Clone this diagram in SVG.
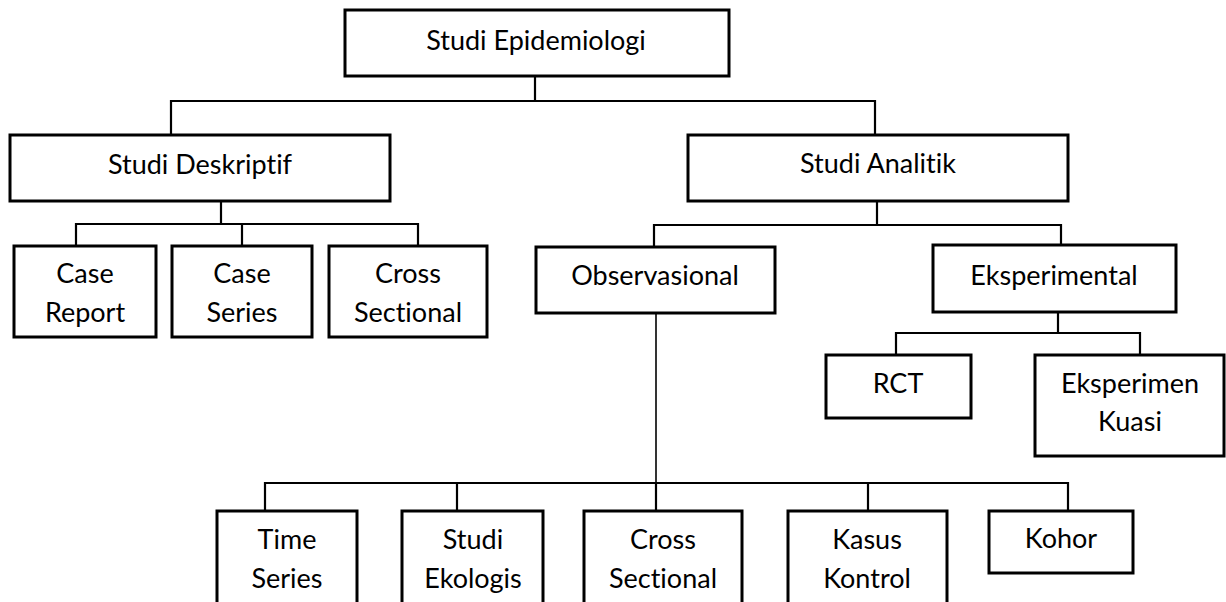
<svg xmlns="http://www.w3.org/2000/svg" width="1226" height="602" viewBox="0 0 1226 602">
<style>
.box{fill:#fff;stroke:#000;stroke-width:3}
.t{font-family:Lato,"Liberation Sans",sans-serif;font-size:27px;fill:#000;text-anchor:middle;font-variant-ligatures:none;font-feature-settings:"liga" 0}
.c{fill:none;stroke:#000;stroke-width:2.2}
</style>
<rect width="1226" height="602" fill="#fff"/>
<g id="connectors">
<path class="c" d="M535 77V101M171 101H875M171 100V134M875 100V134"/>
<path class="c" d="M221 202V224M76 224H418M76 223V245M242 224V245M418 223V245"/>
<path class="c" d="M877 202V225M654 225H1061M654 224V246M1061 224V244"/>
<path class="c" d="M1058 313V333M896 333H1140M896 332V354M1140 332V354"/>
<path class="c" d="M656 314V483" style="stroke-width:1.6"/>
<path class="c" d="M265 483H1068M265 482V510M457 483V510M656 483V510M868 483V510M1068 482V510"/>
</g>
<g id="studi-epidemiologi"><rect class="box" x="345" y="10" width="384" height="66"/><text class="t" x="536" y="50">Studi Epidemiologi</text></g>
<g id="studi-deskriptif"><rect class="box" x="10" y="135" width="380" height="66"/><text class="t" x="200" y="174">Studi Deskriptif</text></g>
<g id="studi-analitik"><rect class="box" x="688" y="135" width="380" height="66"/><text class="t" x="878" y="173">Studi Analitik</text></g>
<g id="case-report"><rect class="box" x="14" y="246" width="142" height="91"/><text class="t" x="85" y="283">Case</text><text class="t" x="85" y="322">Report</text></g>
<g id="case-series"><rect class="box" x="172" y="246" width="140" height="91"/><text class="t" x="242" y="283">Case</text><text class="t" x="242" y="322">Series</text></g>
<g id="cross-sectional-1"><rect class="box" x="329" y="246" width="158" height="91"/><text class="t" x="408" y="283">Cross</text><text class="t" x="408" y="322">Sectional</text></g>
<g id="observasional"><rect class="box" x="536" y="247" width="239" height="66"/><text class="t" x="655" y="285">Observasional</text></g>
<g id="eksperimental"><rect class="box" x="933" y="245" width="243" height="67"/><text class="t" x="1054" y="285">Eksperimental</text></g>
<g id="rct"><rect class="box" x="826" y="355" width="145" height="63"/><text class="t" x="898" y="393">RCT</text></g>
<g id="eksperimen-kuasi"><rect class="box" x="1035" y="355" width="189" height="101"/><text class="t" x="1130" y="393">Eksperimen</text><text class="t" x="1130" y="431">Kuasi</text></g>
<g id="time-series"><rect class="box" x="217" y="511" width="140" height="110"/><text class="t" x="287" y="549">Time</text><text class="t" x="287" y="588">Series</text></g>
<g id="studi-ekologis"><rect class="box" x="402" y="511" width="141" height="110"/><text class="t" x="473" y="549">Studi</text><text class="t" x="473" y="588">Ekologis</text></g>
<g id="cross-sectional-2"><rect class="box" x="584" y="511" width="158" height="110"/><text class="t" x="663" y="549">Cross</text><text class="t" x="663" y="588">Sectional</text></g>
<g id="kasus-kontrol"><rect class="box" x="788" y="511" width="159" height="110"/><text class="t" x="867" y="549">Kasus</text><text class="t" x="867" y="588">Kontrol</text></g>
<g id="kohor"><rect class="box" x="989" y="511" width="144" height="62"/><text class="t" x="1061" y="548">Kohor</text></g>
</svg>
